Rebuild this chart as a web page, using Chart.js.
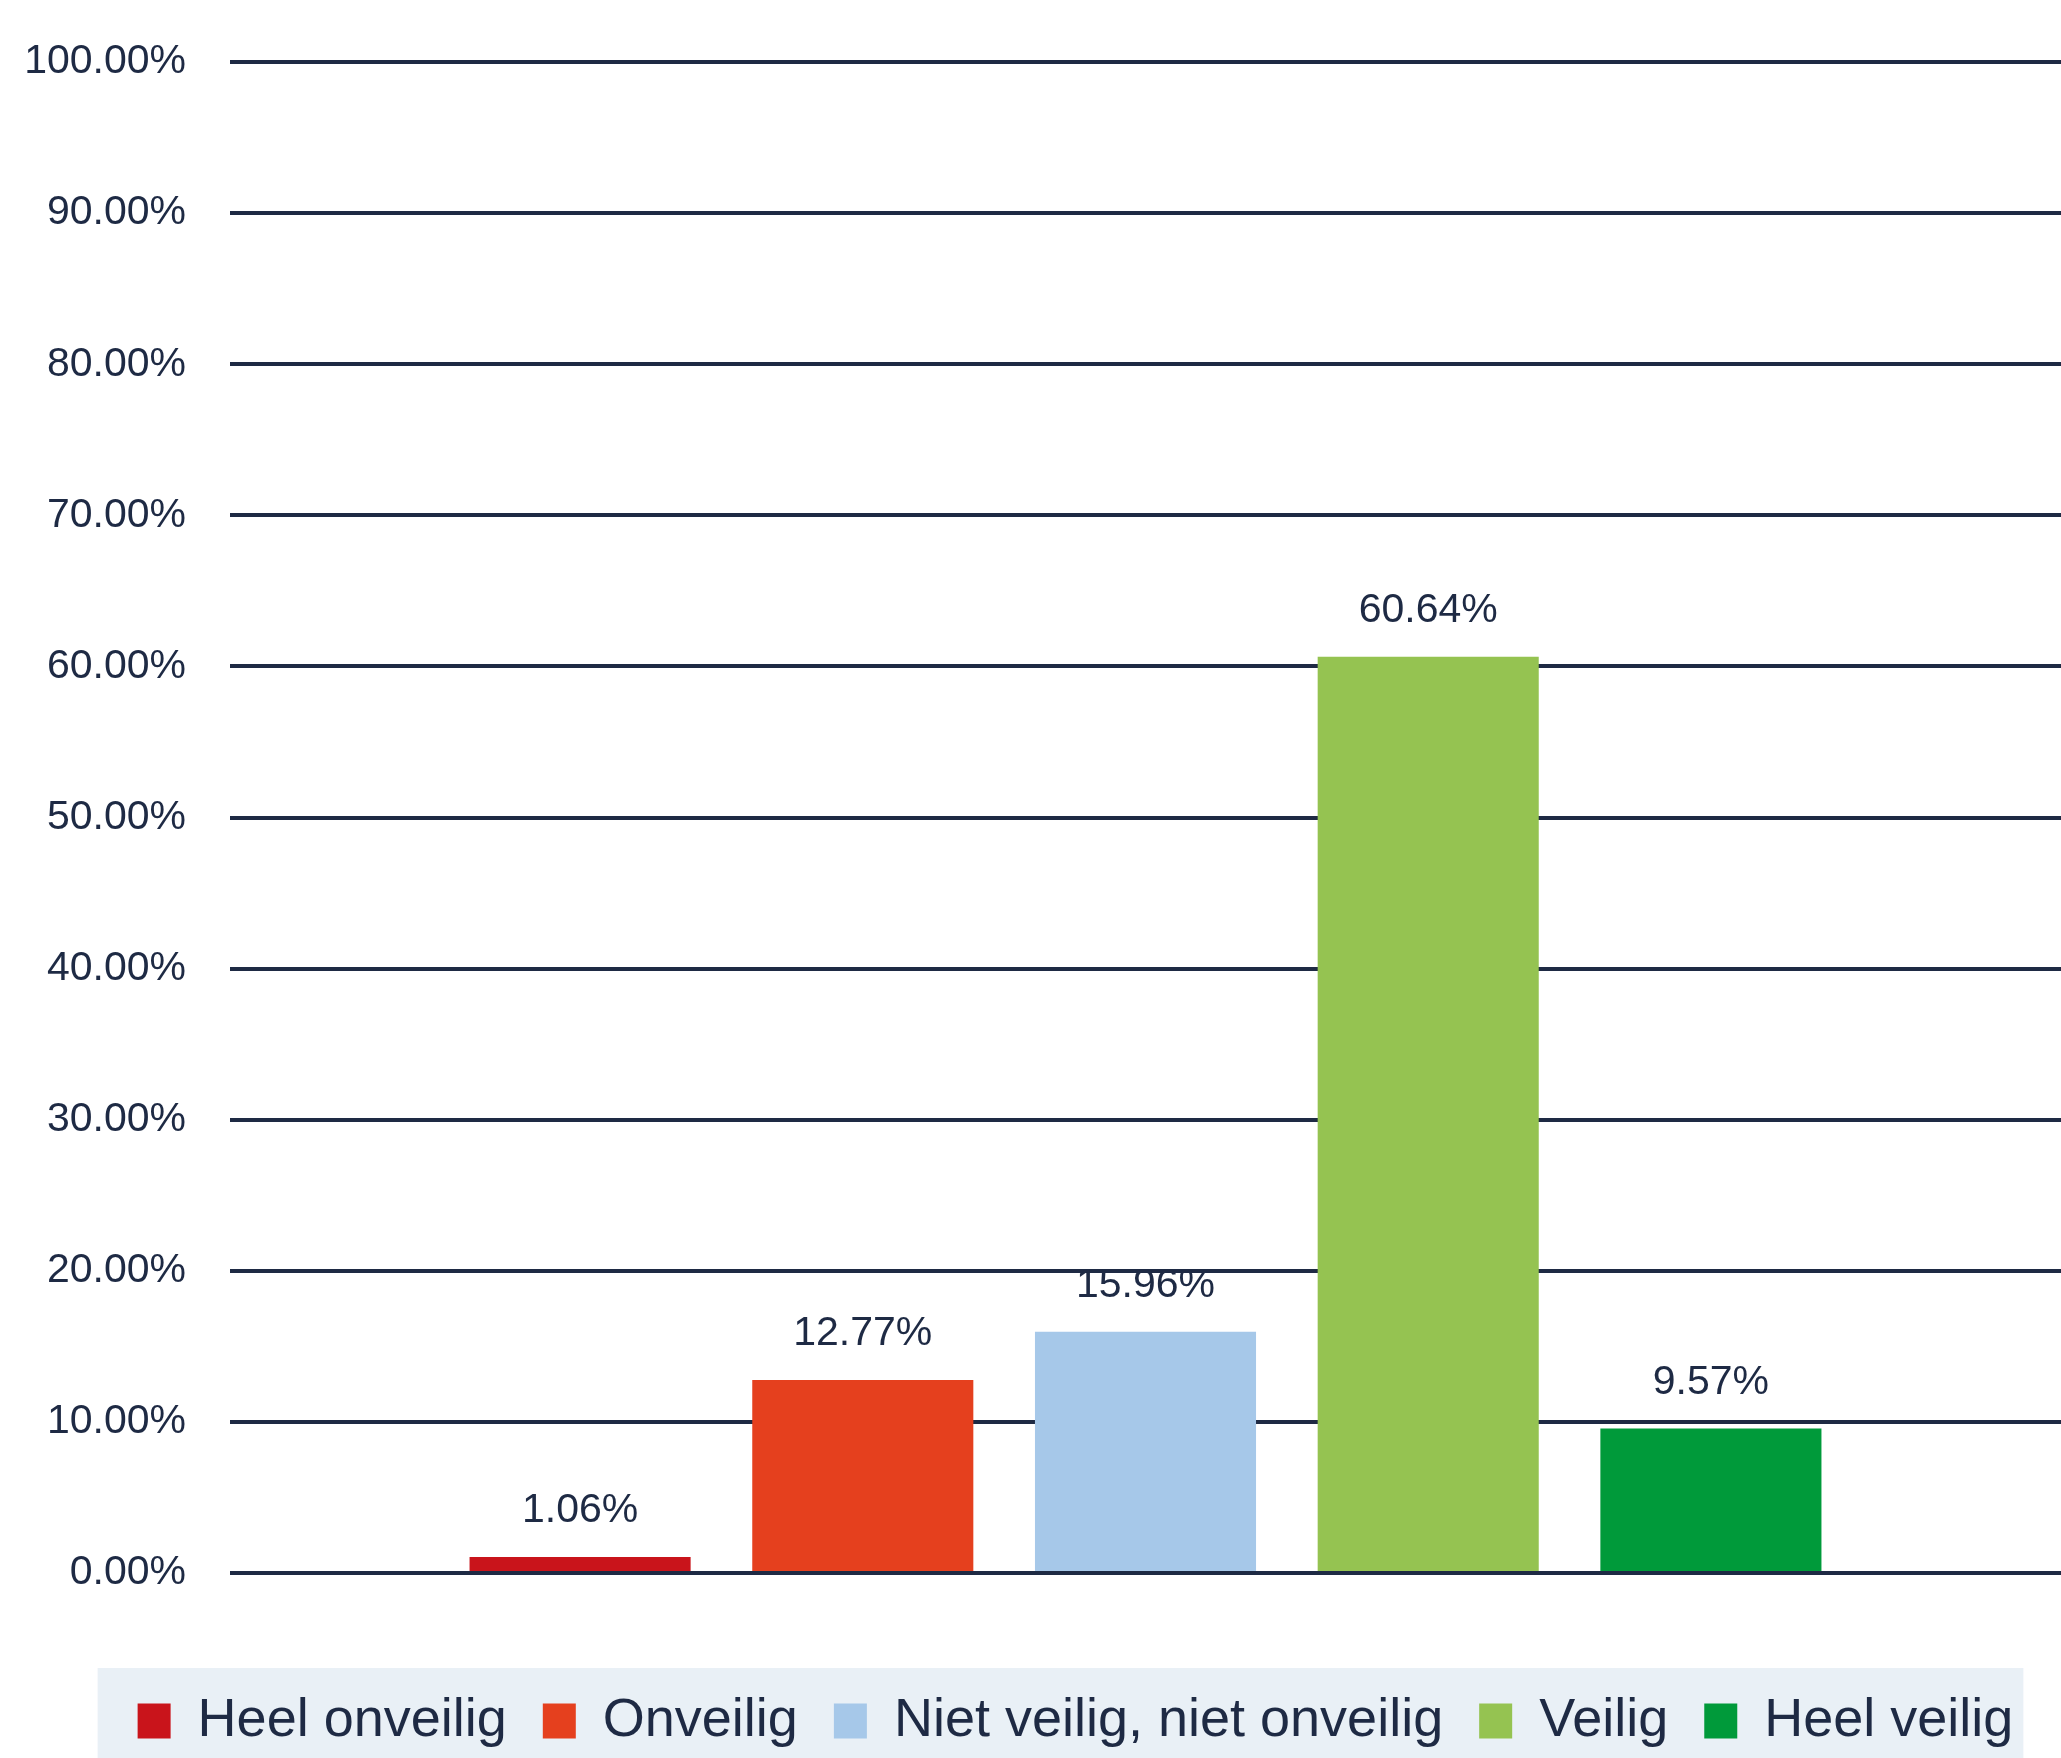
<!DOCTYPE html>
<html>
<head>
<meta charset="utf-8">
<script src="https://cdn.jsdelivr.net/npm/chart.js@4/dist/chart.umd.min.js"></script>
<style>
  html, body { margin: 0; padding: 0; background: #fff; }
  #wrap { width: 2061px; height: 1758px; }
</style>
</head>
<body>
<div id="wrap"><canvas id="chart" width="2061" height="1758"></canvas></div>
<script>
// data
const categories = [""];
const seriesNames = ["Heel onveilig", "Onveilig", "Niet veilig, niet onveilig", "Veilig", "Heel veilig"];
const seriesValues = [1.06, 12.77, 15.96, 60.64, 9.57];
const seriesColors = ["#C9141B", "#E5401E", "#A6C8E9", "#95C351", "#009A3A"];
const yTicks = [0, 10, 20, 30, 40, 50, 60, 70, 80, 90, 100];

const textColor = "#1E2A44";
const gridColor = "#1E2A44";

// light panel behind the legend row; legend sits a little right of centre
const legendPanel = {
    id: "legendPanel",
    afterLayout(chart) {
        if (chart.legend) {
            chart.legend.left += 36;
            chart.legend.right += 30;
        }
    },
    beforeDraw(chart) {
        const lg = chart.legend;
        if (!lg || !lg.legendHitBoxes.length) return;
        const boxes = lg.legendHitBoxes;
        const first = boxes[0];
        const last = boxes[boxes.length - 1];
        const midY = first.top + first.height / 2;
        const ctx = chart.ctx;
        ctx.save();
        ctx.fillStyle = "#E9F0F6";
        ctx.fillRect(first.left - 40, midY - 53, last.left + last.width + 10 - (first.left - 40), chart.height - (midY - 53));
        ctx.restore();
    },
};

// value labels above each bar
const valueLabels = {
    id: "valueLabels",
    afterDatasetsDraw(chart) {
        const ctx = chart.ctx;
        ctx.save();
        ctx.font = "41px 'Liberation Sans', Arial, sans-serif";
        ctx.fillStyle = textColor;
        ctx.textAlign = "center";
        ctx.textBaseline = "middle";
        chart.data.datasets.forEach((ds, i) => {
            const meta = chart.getDatasetMeta(i);
            meta.data.forEach((bar, j) => {
                ctx.fillText(ds.data[j].toFixed(2) + "%", bar.x, bar.y - 46);
            });
        });
        ctx.restore();
    },
};

const ctx = document.getElementById("chart").getContext("2d");
new Chart(ctx, {
    type: "bar",
    data: {
        labels: categories,
        datasets: seriesNames.map((name, i) => ({
            label: name,
            data: [seriesValues[i]],
            backgroundColor: seriesColors[i],
            borderWidth: 0,
            categoryPercentage: 0.772,
            barPercentage: 0.782,
        })),
    },
    options: {
        responsive: false,
        devicePixelRatio: 1,
        animation: false,
        layout: {
            padding: { top: 62, left: 24, right: 0, bottom: 0 },
        },
        plugins: {
            tooltip: { enabled: false },
            legend: {
                position: "bottom",
                labels: {
                    color: textColor,
                    font: { family: "'Liberation Sans', Arial, sans-serif", size: 54 },
                    boxWidth: 33,
                    boxHeight: 35,
                    padding: 36,
                },
            },
        },
        scales: {
            x: {
                ticks: { display: false },
                grid: { display: false },
                border: { display: false },
                afterFit(scale) { scale.height = 85; },
            },
            y: {
                min: 0,
                max: 100,
                afterBuildTicks(scale) {
                    scale.ticks = yTicks.map((v) => ({ value: v }));
                },
                afterFit(scale) {
                    scale.width = 206;
                    scale.paddingTop = 0;
                    scale.paddingBottom = 0;
                },
                ticks: {
                    color: textColor,
                    padding: 44,
                    font: { family: "'Liberation Sans', Arial, sans-serif", size: 41 },
                    callback: (v) => Number(v).toFixed(2) + "%",
                },
                grid: { color: gridColor, lineWidth: 4, drawTicks: false },
                border: { display: false },
            },
        },
    },
    plugins: [legendPanel, valueLabels],
});
</script>
</body>
</html>
